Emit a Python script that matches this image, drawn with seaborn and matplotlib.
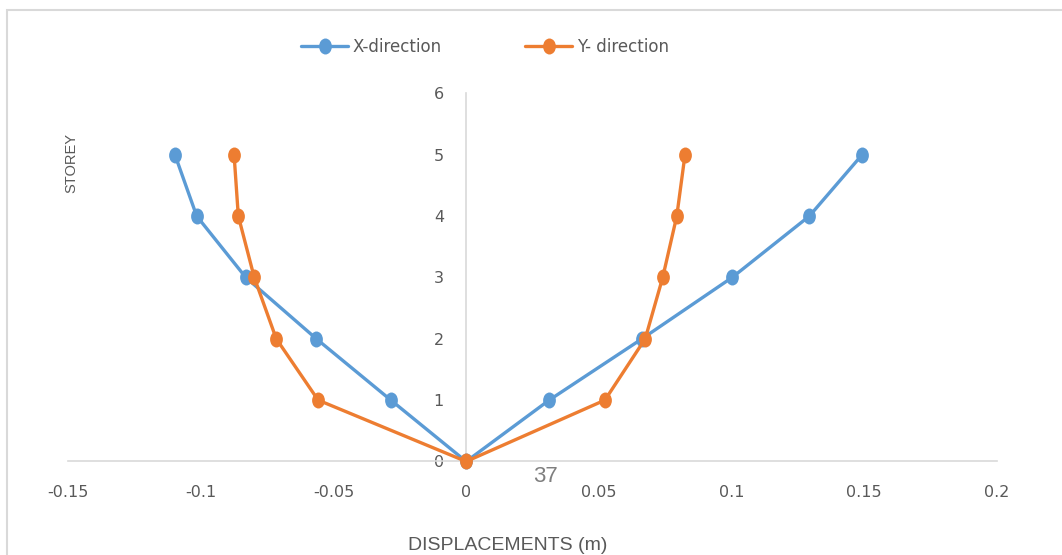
import matplotlib
matplotlib.use("Agg")
import matplotlib.pyplot as plt
from matplotlib.path import Path
from matplotlib.patches import Rectangle
import seaborn as sns
import pandas as pd

# Storey displacements (m), read from the top-left branch down to the base and up the right branch
storeys = [5, 4, 3, 2, 1, 0, 1, 2, 3, 4, 5]
x_direction = [-0.1098, -0.1016, -0.0831, -0.0565, -0.0284, 0.0,
               0.0313, 0.0663, 0.1003, 0.1294, 0.1493]
y_direction = [-0.0875, -0.0859, -0.0799, -0.0716, -0.0558, 0.0,
               0.0523, 0.0675, 0.0741, 0.0794, 0.0825]

series_names = ["X-direction", "Y- direction"]
series_colors = ["#5B9BD5", "#ED7D31"]

x_ticks = [-0.15, -0.1, -0.05, 0, 0.05, 0.1, 0.15, 0.2]
x_tick_labels = ["-0.15", "-0.1", "-0.05", "0", "0.05", "0.1", "0.15", "0.2"]
y_ticks = [0, 1, 2, 3, 4, 5, 6]
y_tick_labels = ["0", "1", "2", "3", "4", "5", "6"]

sns.set_theme(style="white")
plt.rcParams["font.family"] = ["DejaVu Sans"]
narrow = ["Liberation Sans Narrow", "Liberation Sans", "DejaVu Sans"]

fig = plt.figure(figsize=(10.62, 5.55), dpi=100)
ax = fig.add_axes([0.0643, 0.1685, 0.8742, 0.6634])

# slightly tall oval marker
circle = Path.unit_circle()
oval = Path(circle.vertices * [0.8, 1.0], circle.codes)

for name, values, color in zip(series_names, [x_direction, y_direction], series_colors):
    df = pd.DataFrame({"disp": values, "storey": storeys})
    sns.lineplot(data=df, x="disp", y="storey", sort=False, estimator=None,
                 color=color, linewidth=2.4, marker=oval, markersize=11.5,
                 markeredgewidth=0, label=name, ax=ax, clip_on=False, zorder=3)

ax.set_xlim(-0.15, 0.2)
ax.set_ylim(0, 6)
ax.set_xticks(x_ticks)
ax.set_xticklabels(x_tick_labels)
ax.set_yticks(y_ticks)
ax.set_yticklabels(y_tick_labels)

for side in ["top", "right"]:
    ax.spines[side].set_visible(False)
ax.spines["left"].set_position(("data", 0))
for side in ["left", "bottom"]:
    ax.spines[side].set_color("#d9d9d9")
    ax.spines[side].set_linewidth(1.2)
    ax.spines[side].set_zorder(1)

ax.tick_params(axis="x", length=0, pad=17, labelsize=11.5, labelcolor="#595959")
ax.tick_params(axis="y", length=0, pad=16, labelsize=11.5, labelcolor="#595959")
ax.set_xlabel("")
ax.set_ylabel("")

leg = ax.legend(loc="center", bbox_to_anchor=(0.449, 1.125), ncol=2, frameon=False,
                fontsize=12, handlelength=2.8, columnspacing=5.0, handletextpad=0.3)
for t in leg.get_texts():
    t.set_color("#595959")

fig.text(0.0675, 0.706, "STOREY", rotation=90, ha="center", va="center",
         fontsize=10.5, color="#595959", family=narrow)
fig.text(0.478, 0.017, "DISPLACEMENTS (m)", ha="center", va="center",
         fontsize=14, color="#595959", family=narrow)
fig.text(0.514, 0.141, "37", ha="center", va="center",
         fontsize=16, color="#7f7f7f", family=narrow)

fig.patches.append(Rectangle((0.0066, -0.05), 1.2, 1.032, transform=fig.transFigure,
                             fill=False, edgecolor="#d9d9d9", linewidth=1.5))

fig.savefig("out.png", dpi=100, facecolor="white")
